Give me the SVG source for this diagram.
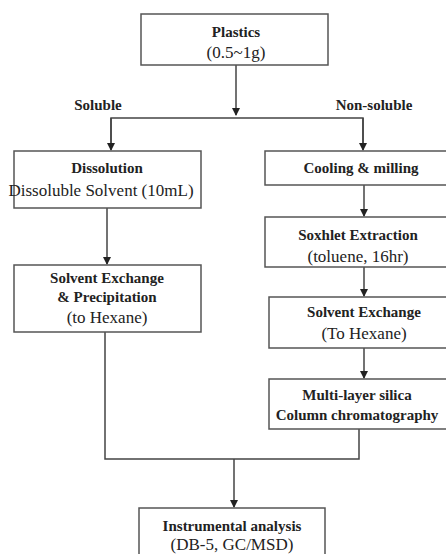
<svg xmlns="http://www.w3.org/2000/svg" width="446" height="554" viewBox="0 0 446 554">
<style>
.box{fill:#fff;stroke:#555;stroke-width:1.5}
text{font-family:"Liberation Serif","Times New Roman",Times,serif;fill:#222;text-anchor:middle}
.b{font-weight:bold;font-size:15px}
.r{font-weight:normal;font-size:17px}
.ln{fill:none;stroke:#444;stroke-width:1.5}
</style>
<defs>
<marker id="ah" markerWidth="8" markerHeight="8" refX="7" refY="4" orient="auto" markerUnits="userSpaceOnUse">
<path d="M0,0 L8,4 L0,8 z" fill="#222"/>
</marker>
</defs>
<rect width="446" height="554" fill="#fff"/>
<g id="connectors">
<path class="ln" d="M236,65 V115" marker-end="url(#ah)"/>
<path class="ln" d="M111,148 V118 H363 V148"/>
<path class="ln" d="M111,118 V150" marker-end="url(#ah)"/>
<path class="ln" d="M363,118 V150" marker-end="url(#ah)"/>
<path class="ln" d="M107,208 V264" marker-end="url(#ah)"/>
<path class="ln" d="M364,185 V216" marker-end="url(#ah)"/>
<path class="ln" d="M364,267 V296" marker-end="url(#ah)"/>
<path class="ln" d="M364,348 V378" marker-end="url(#ah)"/>
<path class="ln" d="M105,332 V459 H359 V429"/>
<path class="ln" d="M234,459 V507" marker-end="url(#ah)"/>
<text class="b" x="98" y="110">Soluble</text>
<text class="b" x="374" y="110">Non-soluble</text>
</g>
<g id="plastics">
<rect class="box" x="141" y="14" width="187" height="51"/>
<text class="b" x="236" y="37">Plastics</text>
<text class="r" x="236" y="58">(0.5~1g)</text>
</g>
<g id="dissolution">
<rect class="box" x="14" y="151" width="187" height="57"/>
<text class="b" x="107" y="173">Dissolution</text>
<text class="r" x="101" y="196">Dissoluble Solvent (10mL)</text>
</g>
<g id="solvent-exchange-left">
<rect class="box" x="14" y="265" width="187" height="67"/>
<text class="b" x="107" y="283">Solvent Exchange</text>
<text class="b" x="107" y="302">&amp; Precipitation</text>
<text class="r" x="107" y="323">(to Hexane)</text>
</g>
<g id="cooling">
<rect class="box" x="265" y="151" width="190" height="34"/>
<text class="b" x="361" y="173">Cooling &amp; milling</text>
</g>
<g id="soxhlet">
<rect class="box" x="265" y="217" width="190" height="50"/>
<text class="b" x="358" y="240">Soxhlet Extraction</text>
<text class="r" x="358" y="262">(toluene, 16hr)</text>
</g>
<g id="solvent-exchange-right">
<rect class="box" x="269" y="297" width="190" height="51"/>
<text class="b" x="364" y="317">Solvent Exchange</text>
<text class="r" x="364" y="339">(To Hexane)</text>
</g>
<g id="silica">
<rect class="box" x="269" y="379" width="190" height="50"/>
<text class="b" x="357" y="400">Multi-layer silica</text>
<text class="b" x="357" y="420">Column chromatography</text>
</g>
<g id="instrumental">
<rect class="box" x="139" y="508" width="186" height="60"/>
<text class="b" x="232" y="531">Instrumental analysis</text>
<text class="r" x="232" y="550">(DB-5, GC/MSD)</text>
</g>
</svg>
